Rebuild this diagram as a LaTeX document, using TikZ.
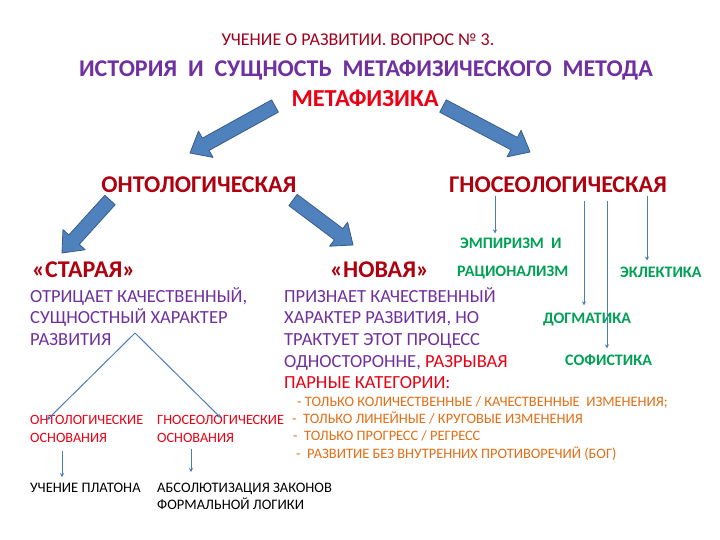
\documentclass[tikz,border=0pt]{standalone}
\usepackage{fontspec}
\setmainfont{Carlito}
\usepackage{tikz}
\usetikzlibrary{arrows.meta,calc}
\definecolor{titlered}{RGB}{160,0,30}
\definecolor{titleviolet}{RGB}{112,48,160}
\definecolor{brightred}{RGB}{235,0,20}
\definecolor{branchred}{RGB}{175,0,15}
\definecolor{schoolgreen}{RGB}{0,160,85}
\definecolor{listorange}{RGB}{228,110,20}
\definecolor{arrowblue}{RGB}{79,129,189}
\definecolor{arrowedge}{RGB}{56,93,138}
\definecolor{lineblue}{RGB}{74,126,187}
\tikzstyle{topictext}=[inner sep=0pt, text=titlered, font=\fontsize{18}{21}\selectfont]
\tikzstyle{headtext}=[inner sep=0pt, text=titleviolet, font=\bfseries\fontsize{24}{28}\selectfont]
\tikzstyle{metatext}=[inner sep=0pt, text=brightred, font=\bfseries\fontsize{24.4}{28}\selectfont]
\tikzstyle{branchtext}=[inner sep=0pt, text=branchred, font=\bfseries\fontsize{24}{28}\selectfont]
\tikzstyle{kindtext}=[inner sep=0pt, anchor=west, text=branchred, font=\bfseries\fontsize{24}{28}\selectfont]
\tikzstyle{schooltext}=[inner sep=0pt, anchor=west, text=schoolgreen, font=\bfseries\fontsize{16}{19}\selectfont]
\tikzstyle{descrtext}=[inner sep=0pt, anchor=north west, align=left, text=titleviolet, font=\fontsize{18.5}{21.7}\selectfont]
\tikzstyle{basistext}=[inner sep=0pt, anchor=north west, align=left, text=brightred, font=\fontsize{14.2}{18}\selectfont]
\tikzstyle{resulttext}=[inner sep=0pt, anchor=north west, align=left, font=\fontsize{14.5}{16.5}\selectfont]
\tikzstyle{listtext}=[inner sep=0pt, anchor=north west, align=left, text=listorange, font=\fontsize{14.4}{17.3}\selectfont]
\tikzstyle{blockarrow}=[fill=arrowblue, draw=arrowedge, line width=0.8pt, line join=round]
\tikzstyle{thinarrow}=[draw=lineblue, line width=1pt, -{Stealth[length=4pt,width=4pt]}]
\newcommand{\blockArrow}[2]{
	\coordinate (BAh) at ($#2!18pt!#1$);
	\draw[blockarrow] ($#1!7pt!90:#2$) -- ($(BAh)!7pt!90:#2$) -- ($(BAh)!15pt!90:#2$) -- #2
		-- ($(BAh)!15pt!-90:#2$) -- ($(BAh)!7pt!-90:#2$) -- ($#1!7pt!-90:#2$) -- cycle;
}

\begin{document}
\begin{tikzpicture}[x=1pt,y=-1pt]
	\useasboundingbox[fill=white] (0,0) rectangle (720,540);
	% headings
	\node[topictext] (topic) at (358,40) {УЧЕНИЕ О РАЗВИТИИ. ВОПРОС № 3.};
	\node[headtext] (title) at (366,70) {ИСТОРИЯ~~И~~СУЩНОСТЬ~~МЕТАФИЗИЧЕСКОГО~~МЕТОДА};
	\node[metatext] (meta) at (365,98) {МЕТАФИЗИКА};
	\node[branchtext] (onto) at (199,185) {ОНТОЛОГИЧЕСКАЯ};
	\node[branchtext] (gnoseo) at (558,185) {ГНОСЕОЛОГИЧЕСКАЯ};
	% big arrows
	\coordinate (metaL) at (275,106);
	\coordinate (metaR) at (443,106);
	\coordinate (ontoTip) at (190,153);
	\coordinate (gnoseoTip) at (530,152);
	\coordinate (ontoL) at (110,200);
	\coordinate (ontoR) at (293,200);
	\coordinate (oldTip) at (62,253);
	\coordinate (newTip) at (353,245);
	\blockArrow{(metaL)}{(ontoTip)}
	\blockArrow{(metaR)}{(gnoseoTip)}
	\blockArrow{(ontoL)}{(oldTip)}
	\blockArrow{(ontoR)}{(newTip)}
	% gnoseological schools
	\node[schooltext] (empir) at (460,243) {ЭМПИРИЗМ~~И};
	\node[schooltext] (ratio) at (457,272) {РАЦИОНАЛИЗМ};
	\node[schooltext] (eklek) at (620,272) {ЭКЛЕКТИКА};
	\node[schooltext] (dogma) at (543,319) {ДОГМАТИКА};
	\node[schooltext] (sofist) at (565,360) {СОФИСТИКА};
	\draw[thinarrow, shorten <=3pt, shorten >=4pt] (gnoseo.south -| 495,0) -- (empir.north -| 495,0);
	\draw[thinarrow, shorten <=8pt, shorten >=7pt] (gnoseo.south -| 584,0) -- (dogma.north -| 584,0);
	\draw[thinarrow, shorten <=8pt, shorten >=6pt] (gnoseo.south -| 607,0) -- (sofist.north -| 607,0);
	\draw[thinarrow, shorten <=3pt, shorten >=6pt] (gnoseo.south -| 647,0) -- (eklek.north -| 647,0);
	% ontological: old and new
	\node[kindtext] (old) at (32,270) {«СТАРАЯ»};
	\node[kindtext] (new) at (330,270) {«НОВАЯ»};
	\node[descrtext] (oldtext) at (30,287) {ОТРИЦАЕТ КАЧЕСТВЕННЫЙ,\\СУЩНОСТНЫЙ ХАРАКТЕР\\РАЗВИТИЯ};
	\node[descrtext] (newtext) at (284,287) {ПРИЗНАЕТ КАЧЕСТВЕННЫЙ\\ХАРАКТЕР РАЗВИТИЯ, НО\\ТРАКТУЕТ ЭТОТ ПРОЦЕСС\\ОДНОСТОРОННЕ, \textcolor{brightred}{РАЗРЫВАЯ}\\\textcolor{brightred}{ПАРНЫЕ КАТЕГОРИИ:}};
	\node[listtext] (onesided) at (292,396) {\hspace*{5pt}- ТОЛЬКО КОЛИЧЕСТВЕННЫЕ / КАЧЕСТВЕННЫЕ~~ИЗМЕНЕНИЯ;\\-~~ТОЛЬКО ЛИНЕЙНЫЕ / КРУГОВЫЕ ИЗМЕНЕНИЯ\\\hspace*{1pt}-~~ТОЛЬКО ПРОГРЕСС / РЕГРЕСС\\\hspace*{4pt}-~~РАЗВИТИЕ БЕЗ ВНУТРЕННИХ ПРОТИВОРЕЧИЙ (БОГ)};
	% grounds of the old view
	\node[basistext] (obase) at (30,415) {ОНТОЛОГИЧЕСКИЕ\\ОСНОВАНИЯ};
	\node[basistext] (gbase) at (157,415) {ГНОСЕОЛОГИЧЕСКИЕ\\ОСНОВАНИЯ};
	\coordinate (apex) at (135,333);
	\draw[thinarrow] (apex) -- ([xshift=17pt,yshift=-5pt]obase.north west);
	\draw[thinarrow] (apex) -- ([xshift=64pt,yshift=-3pt]gbase.north west);
	\node[resulttext] (plato) at (30,483) {УЧЕНИЕ ПЛАТОНА};
	\node[resulttext] (formal) at (157,483) {АБСОЛЮТИЗАЦИЯ ЗАКОНОВ\\ФОРМАЛЬНОЙ ЛОГИКИ};
	\draw[thinarrow, shorten <=8pt, shorten >=6pt] ([xshift=32pt]obase.south west) -- ([xshift=32pt]plato.north west);
	\draw[thinarrow, shorten <=6pt, shorten >=11pt] ([xshift=34pt]gbase.south west) -- ([xshift=34pt]formal.north west);
\end{tikzpicture}
\end{document}
